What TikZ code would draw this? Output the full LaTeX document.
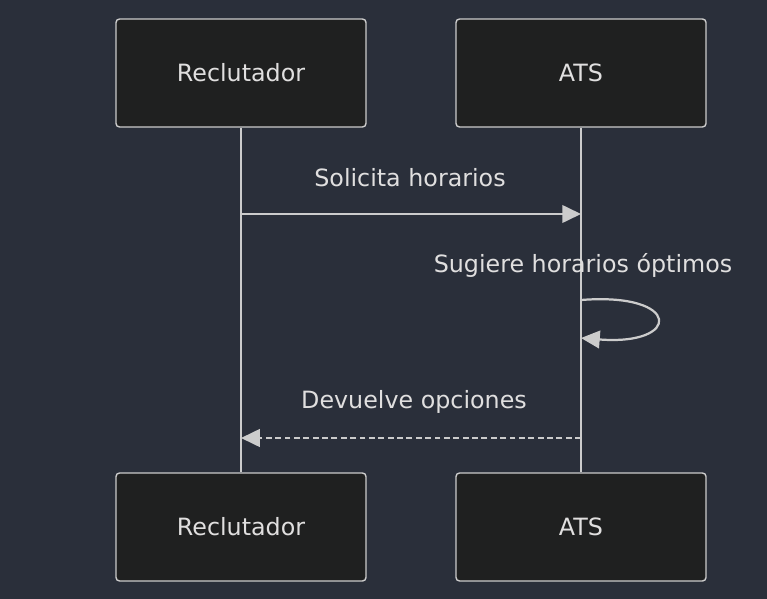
\documentclass[tikz,border=0pt]{standalone}
\usepackage{fontspec}
\setmainfont{DejaVu Sans}
\usetikzlibrary{arrows.meta}
\definecolor{fondo}{RGB}{42,47,58}
\definecolor{caja}{RGB}{31,32,32}
\definecolor{borde}{RGB}{204,204,204}
\definecolor{letra}{RGB}{224,223,223}

\begin{document}
\begin{tikzpicture}[x=0.03cm,y=-0.03cm,
  actor/.style={draw=borde,fill=caja,rounded corners=3pt,line width=1.2pt,
    minimum width=7.5cm,minimum height=3.24cm,text=letra,font=\fontsize{20.3}{24}\selectfont},
  vida/.style={draw=borde,line width=2.2pt},
  msg/.style={draw=borde,line width=1.9pt,-{Triangle[length=16pt,width=15pt]}},
  etiq/.style={text=letra,font=\fontsize{20.3}{24}\selectfont}]

 \fill[fondo] (0,0) rectangle (767,599);

 \node[actor] (rec) at (241,73) {Reclutador};
 \node[actor] (ats) at (581,73) {ATS};
 \node[actor] (rec2) at (241,527) {Reclutador};
 \node[actor] (ats2) at (581,527) {ATS};

 \draw[vida] (rec.south) -- (rec2.north);
 \draw[vida] (ats.south) -- (ats2.north);

 \coordinate (r1) at (241,214);
 \coordinate (a1) at (581,214);
 \draw[msg] (r1) -- (a1);
 \node[etiq] (m1) at (410,178) {Solicita horarios};

 \coordinate (a2) at (581,300);
 \coordinate (a3) at (581,338);
 \draw[msg] (a2) .. controls (682,292) and (682,346) .. (a3);
 \node[etiq] (m2) at (583,265) {Sugiere horarios óptimos};

 \coordinate (a4) at (581,438);
 \coordinate (r4) at (241,438);
 \draw[msg,dash pattern=on 5pt off 3pt] (a4) -- (r4);
 \node[etiq] (m3) at (414,402) {Devuelve opciones};

\end{tikzpicture}
\end{document}
